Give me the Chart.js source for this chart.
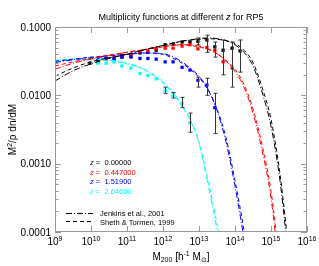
<!DOCTYPE html>
<html>
<head>
<meta charset="utf-8">
<script src="https://cdn.jsdelivr.net/npm/chart.js@4.4.0/dist/chart.umd.min.js"></script>
<style>
    body { margin: 0; background: #ffffff; }
    canvas { display: block; }
</style>
</head>
<body>
<canvas id="mfChart" width="319" height="266"></canvas>
<script>
// log10 M200 of the measured bins
const binLogM = [9.97, 10.19, 10.42, 10.64, 10.86, 11.11, 11.36, 11.58, 11.81, 12.06, 12.28, 12.53, 12.75, 12.97, 13.22, 13.44, 13.67, 13.92, 14.14];

// log10 of M^2/rho dn/dM for the measured points
const z0LogY = [-1.53, -1.51, -1.47, -1.47, -1.44, -1.43, -1.38, -1.37, -1.34, -1.26, -1.25, -1.22, -1.22, -1.21, -1.19, -1.29, -1.34, -1.31, -1.35];
const z1LogY = [null, -1.49, -1.46, -1.44, -1.42, -1.40, -1.37, -1.35, -1.32, -1.31, -1.31, -1.28, -1.26, -1.32, -1.30, -1.34, -1.51, -1.60, null];
const z2LogY = [null, -1.47, -1.46, -1.46, -1.44, -1.44, -1.46, -1.46, -1.47, -1.51, -1.51, -1.59, -1.63, -1.78, -1.85, -2.18, null, null, null];
const z3LogY = [null, -1.53, -1.53, -1.51, -1.57, -1.60, -1.68, -1.71, -1.76, -1.93, -2.00, -2.12, -2.40, null, null, null, null, null, null];

// error bars [low, high] in log10, same bins
const z0Err = [null, null, null, null, null, null, null, null, null, null, null, null, null, [-1.26, -1.16], [-1.37, -1.12], [-1.44, -1.22], [-1.70, -1.19], [-1.88, -1.22], [-1.66, -1.19]];
const z2Err = [null, null, null, null, null, null, null, null, null, null, null, null, null, [-1.88, -1.735], [-2.00, -1.75], [-2.56, -1.97], null, null, null];
const z3Err = [null, null, null, null, null, null, null, null, null, [-1.97, -1.88], [-2.04, -1.96], [-2.18, -2.03], [-2.54, -2.26], null, null, null, null, null, null];

// model curves, log10 M grid
const lineLogM = [9, 9.5, 10, 10.5, 11, 11.5, 12, 12.25, 12.5, 12.75, 13, 13.25, 13.5, 13.75, 14, 14.25, 14.5, 14.75, 15, 15.25, 15.5];
const z0Sheth = [-1.72, -1.60, -1.51, -1.45, -1.40, -1.33, -1.27, -1.24, -1.21, -1.19, -1.18, -1.17, -1.18, -1.20, -1.24, -1.34, -1.52, -1.88, -2.35, -3.15, -4.30];
const z0Jenkins = [-1.79, -1.64, -1.54, -1.46, -1.40, -1.33, -1.27, -1.24, -1.21, -1.19, -1.17, -1.16, -1.17, -1.20, -1.26, -1.37, -1.57, -1.95, -2.45, -3.25, -4.45];
const z1Sheth = [-1.57, -1.51, -1.46, -1.41, -1.37, -1.33, -1.29, -1.27, -1.26, -1.27, -1.29, -1.33, -1.39, -1.49, -1.62, -1.84, -2.20, -2.72, -3.40, -4.50, null];
const z1Jenkins = [-1.62, -1.53, -1.47, -1.42, -1.37, -1.33, -1.29, -1.27, -1.26, -1.26, -1.28, -1.32, -1.39, -1.50, -1.65, -1.88, -2.26, -2.80, -3.50, -4.65, null];
const z2Sheth = [-1.50, -1.47, -1.44, -1.42, -1.40, -1.38, -1.40, -1.45, -1.52, -1.62, -1.74, -1.92, -2.20, -2.62, -3.25, -3.98, -4.90, null, null, null, null];
const z2Jenkins = [-1.52, -1.48, -1.45, -1.42, -1.40, -1.38, -1.39, -1.43, -1.50, -1.60, -1.72, -1.91, -2.22, -2.68, -3.33, -4.10, -5.00, null, null, null, null];
const z3Sheth = [-1.50, -1.48, -1.47, -1.49, -1.54, -1.63, -1.82, -1.96, -2.14, -2.36, -2.68, -3.25, -3.88, -4.70, null, null, null, null, null, null, null];
const z3Jenkins = [-1.49, -1.47, -1.46, -1.48, -1.53, -1.62, -1.80, -1.94, -2.12, -2.35, -2.70, -3.30, -3.98, -4.85, null, null, null, null, null, null, null];

const redshifts = ['0.00000', '0.447000', '1.51900', '2.64600'];
const colors = ['#000000', '#ff0000', '#0000ff', '#00ffff'];

const xTicks = [9, 10, 11, 12, 13, 14, 15, 16];
const yTicks = [-4, -3, -2, -1];
const yTickLabels = ['0.0001', '0.0010', '0.0100', '0.1000'];

const FONT = '"Liberation Sans", Arial, sans-serif';
const DASH = [4, 3];
const DASHDOT = [6, 2, 1, 2];

function toPoints(xs, ys) {
    return xs.map((x, i) => ys[i] == null ? null : { x: 10 ** x, y: 10 ** ys[i] }).filter(Boolean);
}

function pointSet(ys, color) {
    return {
        data: toPoints(binLogM, ys),
        showLine: false,
        pointStyle: 'rect',
        pointRadius: 2.3,
        backgroundColor: color,
        borderColor: color,
        borderWidth: 0
    };
}

function lineSet(ys, color, dash) {
    return {
        data: toPoints(lineLogM, ys),
        showLine: true,
        pointRadius: 0,
        borderColor: color,
        borderWidth: 1,
        borderDash: dash,
        cubicInterpolationMode: 'monotone'
    };
}

// text made of runs with own size / shift (for sub and superscripts)
function drawRuns(ctx, runs, x, y, align, color) {
    let total = 0;
    runs.forEach(r => {
        ctx.font = (r.it ? 'italic ' : '') + r.s + 'px ' + FONT;
        r.w = ctx.measureText(r.t).width;
        total += r.w;
    });
    let cx = align === 'center' ? x - total / 2 : align === 'right' ? x - total : x;
    ctx.fillStyle = color || '#000';
    ctx.textAlign = 'left';
    ctx.textBaseline = 'alphabetic';
    runs.forEach(r => {
        ctx.font = (r.it ? 'italic ' : '') + r.s + 'px ' + FONT;
        ctx.fillText(r.t, cx, y + (r.dy || 0));
        cx += r.w;
    });
}

const errorBars = {
    id: 'errorBars',
    afterDatasetsDraw(chart) {
        const ctx = chart.ctx;
        const xs = chart.scales.x, ys = chart.scales.y;
        const a = chart.chartArea;
        ctx.save();
        ctx.beginPath();
        ctx.rect(a.left, a.top, a.right - a.left, a.bottom - a.top);
        ctx.clip();
        ctx.strokeStyle = '#333';
        ctx.lineWidth = 1;
        [z0Err, z2Err, z3Err].forEach(errs => {
            errs.forEach((e, i) => {
                if (!e) return;
                const px = Math.round(xs.getPixelForValue(10 ** binLogM[i])) + 0.5;
                const lo = ys.getPixelForValue(10 ** e[0]);
                const hi = ys.getPixelForValue(10 ** e[1]);
                ctx.beginPath();
                ctx.moveTo(px, lo); ctx.lineTo(px, hi);
                ctx.moveTo(px - 2, lo); ctx.lineTo(px + 2, lo);
                ctx.moveTo(px - 2, hi); ctx.lineTo(px + 2, hi);
                ctx.stroke();
            });
        });
        ctx.restore();
    }
};

const frame = {
    id: 'frame',
    afterDraw(chart) {
        const ctx = chart.ctx;
        const xs = chart.scales.x, ys = chart.scales.y;
        const a = chart.chartArea;
        ctx.save();
        ctx.strokeStyle = '#999';
        ctx.lineWidth = 1;
        ctx.strokeRect(a.left + 0.5, a.top + 0.5, a.right - a.left - 1, a.bottom - a.top - 1);

        ctx.beginPath();
        // x ticks, bottom and top
        xTicks.forEach(t => {
            const px = Math.round(xs.getPixelForValue(10 ** t)) + 0.5;
            ctx.moveTo(px, a.bottom); ctx.lineTo(px, a.bottom - 6);
            ctx.moveTo(px, a.top); ctx.lineTo(px, a.top + 6);
        });
        // y ticks, left and right, with log minors
        yTicks.forEach(t => {
            const py = Math.round(ys.getPixelForValue(10 ** t)) + 0.5;
            ctx.moveTo(a.left, py); ctx.lineTo(a.left + 6, py);
            ctx.moveTo(a.right, py); ctx.lineTo(a.right - 6, py);
            if (t < -1) {
                for (let k = 2; k <= 9; k++) {
                    const my = Math.round(ys.getPixelForValue(k * 10 ** t)) + 0.5;
                    ctx.moveTo(a.left, my); ctx.lineTo(a.left + 3.5, my);
                    ctx.moveTo(a.right, my); ctx.lineTo(a.right - 3.5, my);
                }
            }
        });
        ctx.stroke();

        // tick labels
        xTicks.forEach(t => {
            const px = xs.getPixelForValue(10 ** t);
            drawRuns(ctx, [{ t: '10', s: 10 }, { t: String(t), s: 7, dy: -4 }], px, a.bottom + 13, 'center');
        });
        yTicks.forEach((t, i) => {
            const py = ys.getPixelForValue(10 ** t);
            drawRuns(ctx, [{ t: yTickLabels[i], s: 10 }], a.left - 4, py + 3.5, 'right');
        });

        // titles
        const mid = (a.left + a.right) / 2;
        drawRuns(ctx, [{ t: 'Multiplicity functions at different ', s: 9 }, { t: 'z', s: 9, it: true }, { t: ' for RP5', s: 9 }], mid, 20, 'center');
        drawRuns(ctx, [
            { t: 'M', s: 10 }, { t: '200', s: 7, dy: 2 }, { t: ' [h', s: 10 }, { t: '-1', s: 7, dy: -4 },
            { t: ' M', s: 10 }, { t: '\u2299', s: 7, dy: 2 }, { t: ']', s: 10 }
        ], mid, 260, 'center');
        ctx.save();
        ctx.translate(12, (a.top + a.bottom) / 2);
        ctx.rotate(-Math.PI / 2);
        drawRuns(ctx, [{ t: 'M', s: 10 }, { t: '2', s: 7, dy: -4 }, { t: '/\u03c1 dn/dM', s: 10 }], 0, 3.5, 'center');
        ctx.restore();

        // legend
        redshifts.forEach((zs, i) => {
            drawRuns(ctx, [{ t: 'z', s: 7.5, it: true }, { t: ' =  ' + zs, s: 7.5 }], 90, 165 + i * 9.7, 'left', colors[i]);
        });
        ctx.strokeStyle = '#000';
        ctx.setLineDash(DASHDOT);
        ctx.beginPath(); ctx.moveTo(66, 213.5); ctx.lineTo(93, 213.5); ctx.stroke();
        ctx.setLineDash(DASH);
        ctx.beginPath(); ctx.moveTo(66, 221.5); ctx.lineTo(93, 221.5); ctx.stroke();
        ctx.setLineDash([]);
        drawRuns(ctx, [{ t: 'Jenkins et al., 2001', s: 7.5 }], 100, 216, 'left');
        drawRuns(ctx, [{ t: 'Sheth & Tormen, 1999', s: 7.5 }], 100, 224.5, 'left');
        ctx.restore();
    }
};

new Chart(document.getElementById('mfChart'), {
    type: 'scatter',
    data: {
        datasets: [
            lineSet(z0Jenkins, colors[0], DASHDOT),
            lineSet(z0Sheth, colors[0], DASH),
            lineSet(z1Jenkins, colors[1], DASHDOT),
            lineSet(z1Sheth, colors[1], DASH),
            lineSet(z2Jenkins, colors[2], DASHDOT),
            lineSet(z2Sheth, colors[2], DASH),
            lineSet(z3Jenkins, colors[3], DASHDOT),
            lineSet(z3Sheth, colors[3], DASH),
            pointSet(z3LogY, colors[3]),
            pointSet(z2LogY, colors[2]),
            pointSet(z1LogY, colors[1]),
            pointSet(z0LogY, colors[0])
        ]
    },
    options: {
        responsive: false,
        animation: false,
        devicePixelRatio: 1,
        layout: { padding: { left: 55, right: 12, top: 27, bottom: 34 } },
        plugins: { legend: { display: false }, title: { display: false }, tooltip: { enabled: false } },
        scales: {
            x: { type: 'logarithmic', min: 1e9, max: 1e16, display: false },
            y: { type: 'logarithmic', min: 1e-4, max: 0.1, display: false }
        }
    },
    plugins: [errorBars, frame]
});
</script>
</body>
</html>
